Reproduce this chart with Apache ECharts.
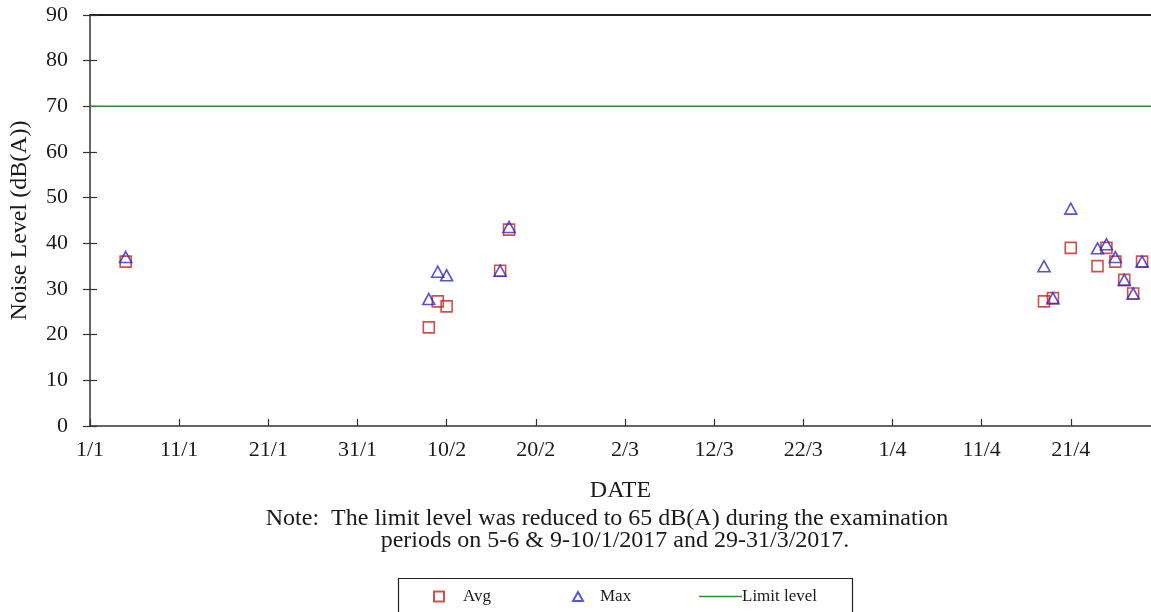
<!DOCTYPE html>
<html>
<head>
<meta charset="utf-8">
<script src="https://cdn.jsdelivr.net/npm/echarts@6/dist/echarts.min.js"></script>
<style>
html,body{margin:0;padding:0;background:#fff;}
#chart{width:1151px;height:612px;}
</style>
</head>
<body>
<div id="chart"></div>
<script>
// ---- data ----
var dates = ['5/1','8/2','9/2','10/2','16/2','17/2','18/4','19/4','21/4','24/4','25/4','26/4','27/4','28/4','29/4'];
var avgValues = [36, 21.6, 27.3, 26.2, 34, 43, 27.3, 28, 39, 35, 39, 36, 32, 29, 36];
var maxValues = [37, 27.8, 33.8, 33, 34, 43.6, 35, 28, 47.6, 38.9, 39.8, 37, 32, 29, 36];
var limitDates = ['1/1', '30/4'];
var limitValues = [70, 70];
var xTickLabels = ['1/1','11/1','21/1','31/1','10/2','20/2','2/3','12/3','22/3','1/4','11/4','21/4'];
var yTickStep = 10;
var noteLines = ['Note:  The limit level was reduced to 65 dB(A) during the examination',
                 'periods on 5-6 & 9-10/1/2017 and 29-31/3/2017.'];

function dayOfYear(s) {
  var p = s.split('/');
  return (Date.UTC(2017, +p[1] - 1, +p[0]) - Date.UTC(2017, 0, 1)) / 86400000;
}
function pairs(ds, vs) { return ds.map(function (d, i) { return [dayOfYear(d), vs[i]]; }); }

var FONT = '"Liberation Serif", "Times New Roman", serif';
var TXT = '#1a1a1a';
var chart = echarts.init(document.getElementById('chart'));
var xMax = dayOfYear(limitDates[1]);

chart.setOption({
  animation: false,
  backgroundColor: '#fff',
  textStyle: { fontFamily: FONT, color: TXT },
  grid: { left: 89, right: 0, top: 15, bottom: 186 },
  xAxis: [{
    type: 'value', min: 0, max: xMax, interval: 10,
    name: 'DATE', nameLocation: 'middle', nameGap: 53,
    nameTextStyle: { fontFamily: FONT, fontSize: 24, color: TXT },
    axisLine: { lineStyle: { color: '#333', width: 1.5 } },
    axisTick: { inside: true, length: 7, lineStyle: { color: '#333', width: 1.2 } },
    axisLabel: { fontFamily: FONT, fontSize: 22, color: TXT, margin: 13, showMaxLabel: false,
      formatter: function (v) { var l = xTickLabels[Math.round(v / 10)]; return (v % 10 === 0 && l) ? l : ''; } },
    splitLine: { show: false }
  }, {
    type: 'value', min: 0, max: xMax, position: 'top',
    axisLine: { show: true, onZero: false, lineStyle: { color: '#222', width: 1.8 } },
    axisTick: { show: false }, axisLabel: { show: false }, splitLine: { show: false }
  }],
  yAxis: [{
    type: 'value', min: 0, max: 90, interval: yTickStep,
    name: 'Noise Level (dB(A))', nameLocation: 'middle', nameGap: 58, nameRotate: 90,
    nameTextStyle: { fontFamily: FONT, fontSize: 24, color: TXT },
    axisLine: { show: true, onZero: false, lineStyle: { color: '#333', width: 1.5 } },
    axisTick: { show: true, length: 7, lineStyle: { color: '#333', width: 1.2 } },
    axisLabel: { fontFamily: FONT, fontSize: 22, color: TXT, margin: 22 },
    splitLine: { show: false }
  }, {
    type: 'value', min: 0, max: 90, interval: yTickStep, position: 'left', offset: 0,
    axisLine: { show: false },
    axisTick: { show: true, inside: true, length: 7, lineStyle: { color: '#333', width: 1.2 } },
    axisLabel: { show: false }, splitLine: { show: false }
  }, {
    type: 'value', min: 0, max: 90, position: 'right',
    axisLine: { show: true, onZero: false, lineStyle: { color: '#ddd', width: 1 } },
    axisTick: { show: false }, axisLabel: { show: false }, splitLine: { show: false }
  }],
  legend: [{
    data: ['Avg'], left: 433, top: 588, padding: 0, itemWidth: 10, itemHeight: 10,
    textStyle: { fontFamily: FONT, fontSize: 17, color: TXT, padding: [0, 0, 0, 14] }
  }, {
    data: ['Max'], left: 572, top: 588, padding: 0, itemWidth: 10, itemHeight: 9,
    textStyle: { fontFamily: FONT, fontSize: 17, color: TXT, padding: [0, 0, 0, 12] }
  }, {
    data: [{ name: 'Limit level', icon: 'rect' }], left: 699, top: 588, padding: 0,
    itemWidth: 43, itemHeight: 1.5,
    itemStyle: { color: '#2e8b2e' },
    textStyle: { fontFamily: FONT, fontSize: 17, color: TXT, padding: [0, 0, 0, -5] }
  }],
  graphic: [{
    type: 'rect', left: 396, top: 576, shape: { width: 454, height: 44 },
    style: { fill: 'none', stroke: '#222', lineWidth: 1.2 }, silent: true
  }, {
    type: 'text', x: 607, y: 519,
    style: { text: noteLines[0], font: '24px ' + FONT, fill: TXT, align: 'center', verticalAlign: 'middle' }
  }, {
    type: 'text', x: 615, y: 541,
    style: { text: noteLines[1], font: '24px ' + FONT, fill: TXT, align: 'center', verticalAlign: 'middle' }
  }],
  series: [{
    name: 'Avg', type: 'scatter', data: pairs(dates, avgValues),
    symbol: 'rect', symbolSize: 11,
    itemStyle: { color: 'rgba(255,255,255,0)', borderColor: '#cc2020', borderWidth: 1.6 }
  }, {
    name: 'Max', type: 'scatter', data: pairs(dates, maxValues),
    symbol: 'triangle', symbolSize: [12, 11],
    itemStyle: { color: 'rgba(255,255,255,0)', borderColor: '#2a2acc', borderWidth: 1.6 }
  }, {
    name: 'Limit level', type: 'line', data: pairs(limitDates, limitValues),
    symbol: 'none', lineStyle: { color: '#2e8b2e', width: 1.5 }, itemStyle: { color: '#2e8b2e' }
  }]
});
</script>
</body>
</html>
